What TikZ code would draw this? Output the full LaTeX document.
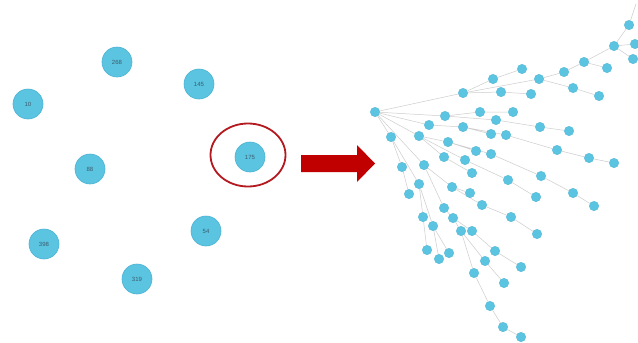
\documentclass[tikz,border=0pt]{standalone}
\usepackage{fontspec}
\setmainfont{Liberation Sans}
\usetikzlibrary{backgrounds,shapes.geometric}
\definecolor{nodeblue}{HTML}{5BC4E1}
\definecolor{nodeedge}{HTML}{4DB3D3}
\definecolor{labelcol}{HTML}{3B5C6C}
\definecolor{edgegray}{HTML}{CDCDCD}
\definecolor{ringred}{HTML}{B3191E}
\definecolor{arrowred}{HTML}{C00000}
\tikzset{
  bignode/.style={circle,fill=nodeblue,draw=nodeedge,line width=0.6pt,minimum size=30pt,inner sep=0pt,font=\fontsize{6}{7}\selectfont,text=labelcol},
  tn/.style={circle,fill=nodeblue,draw=nodeedge,line width=0.3pt,minimum size=9.5pt,inner sep=0pt},
  edge/.style={draw=edgegray,line width=0.5pt}
}
\begin{document}
\begin{tikzpicture}[x=1pt,y=-1pt]
\useasboundingbox (0,0) rectangle (638,343);

% left: isolated nodes
\node[bignode] (n268) at (117,62) {268};
\node[bignode] (n145) at (199,84) {145};
\node[bignode] (n10) at (28,104) {10};
\node[bignode] (n88) at (90,169) {88};
\node[bignode] (n175) at (250,157) {175};
\node[bignode] (n54) at (206,231) {54};
\node[bignode] (n398) at (44,244) {398};
\node[bignode] (n319) at (137,279) {319};
\node[draw=ringred,line width=1.8pt,ellipse,minimum width=75pt,minimum height=63pt] (ring) at (248,155) {};

% big arrow
\fill[arrowred] (301,155) -- (357,155) -- (357,145) -- (375,163.5) -- (357,182) -- (357,172) -- (301,172) -- cycle;

% tree nodes
\node[tn] (t0) at (375,112) {};
\node[tn] (a1) at (463,93) {};
\node[tn] (a2) at (539,79) {};
\node[tn] (a3) at (564,72) {};
\node[tn] (a4) at (584,62) {};
\node[tn] (a5) at (614,46) {};
\node[tn] (a6) at (629,25) {};
\node[tn] (a7) at (635,44) {};
\node[tn] (a8) at (633,59) {};
\node[tn] (a9) at (607,68) {};
\node[tn] (a10) at (573,88) {};
\node[tn] (a11) at (599,96) {};
\node[tn] (a12) at (493,79) {};
\node[tn] (a13) at (522,69) {};
\node[tn] (a14) at (501,92) {};
\node[tn] (a15) at (531,94) {};
\coordinate (atop) at (636,4);

\node[tn] (b1) at (445,116) {};
\node[tn] (b2) at (480,112) {};
\node[tn] (b3) at (513,112) {};
\node[tn] (c1) at (496,120) {};
\node[tn] (c2) at (540,127) {};
\node[tn] (c3) at (569,131) {};
\node[tn] (d1) at (429,125) {};
\node[tn] (d2) at (463,127) {};
\node[tn] (d3) at (491,134) {};
\node[tn] (e1) at (506,135) {};
\node[tn] (e2) at (557,150) {};
\node[tn] (e3) at (589,158) {};
\node[tn] (e4) at (614,163) {};

\node[tn] (f1) at (419,136) {};
\node[tn] (f2) at (448,142) {};
\node[tn] (f3) at (476,151) {};
\node[tn] (f4) at (491,154) {};
\node[tn] (g1) at (444,157) {};
\node[tn] (g2) at (465,160) {};
\node[tn] (l1) at (472,173) {};
\node[tn] (l2) at (508,180) {};
\node[tn] (l3) at (536,197) {};
\node[tn] (r1) at (541,176) {};
\node[tn] (r2) at (573,193) {};
\node[tn] (r3) at (594,206) {};

\node[tn] (i1) at (391,137) {};
\node[tn] (i2) at (402,167) {};
\node[tn] (i3) at (409,194) {};
\node[tn] (j1) at (424,165) {};
\node[tn] (j2) at (419,184) {};
\node[tn] (m1) at (452,187) {};
\node[tn] (m2) at (470,193) {};
\node[tn] (m3) at (482,205) {};
\node[tn] (o1) at (511,217) {};
\node[tn] (o2) at (537,234) {};
\node[tn] (n1) at (444,208) {};
\node[tn] (n2) at (423,217) {};
\node[tn] (n3) at (453,218) {};
\node[tn] (n4) at (433,226) {};
\node[tn] (n5) at (461,231) {};
\node[tn] (n6) at (472,231) {};
\node[tn] (p1) at (427,250) {};
\node[tn] (p2) at (449,253) {};
\node[tn] (p3) at (439,259) {};
\node[tn] (q1) at (495,251) {};
\node[tn] (q2) at (485,261) {};
\node[tn] (q3) at (474,273) {};
\node[tn] (q4) at (504,283) {};
\node[tn] (q5) at (490,306) {};
\node[tn] (q6) at (503,327) {};
\node[tn] (q7) at (521,337) {};
\node[tn] (q8) at (521,267) {};

\begin{pgfonlayer}{background}
\fill[white] (0,0) rectangle (638,343);
\draw[edge] (t0) -- (a1) (a1) -- (a2) (a2) -- (a3) (a3) -- (a4) (a4) -- (a5) (a5) -- (a6) (a6) -- (atop);
\draw[edge] (a5) -- (a7) (a5) -- (a8) (a4) -- (a9) (a2) -- (a10) (a10) -- (a11);
\draw[edge] (a1) -- (a12) (a12) -- (a13) (a1) -- (a14) (a14) -- (a15);
\draw[edge] (t0) -- (b1) (b1) -- (b2) (b2) -- (b3) (b1) -- (c1) (c1) -- (c2) (c2) -- (c3);
\draw[edge] (t0) -- (d1) (d1) -- (d2) (d2) -- (d3) (d2) -- (e1) (e1) -- (e2) (e2) -- (e3) (e3) -- (e4);
\draw[edge] (t0) -- (f1) (f1) -- (f2) (f2) -- (f3) (f2) -- (f4) (f4) -- (r1) (r1) -- (r2) (r2) -- (r3);
\draw[edge] (f1) -- (g1) (g1) -- (l1) (f1) -- (g2) (g2) -- (l2) (l2) -- (l3);
\draw[edge] (t0) -- (i1) (i1) -- (i2) (i2) -- (i3) (i1) -- (j2);
\draw[edge] (j2) -- (n2) (n2) -- (p1) (j2) -- (n4) (n4) -- (p3) (n4) -- (p2);
\draw[edge] (t0) -- (j1) (j1) -- (m1) (m1) -- (m2) (m1) -- (m3) (m3) -- (o1) (o1) -- (o2);
\draw[edge] (j1) -- (n1) (n1) -- (n3) (n3) -- (n5) (n3) -- (n6);
\draw[edge] (n5) -- (q3) (q3) -- (q5) (q5) -- (q6) (q6) -- (q7) (n5) -- (q2) (q2) -- (q4) (n6) -- (q1) (q1) -- (q8);
\end{pgfonlayer}
\end{tikzpicture}
\end{document}
